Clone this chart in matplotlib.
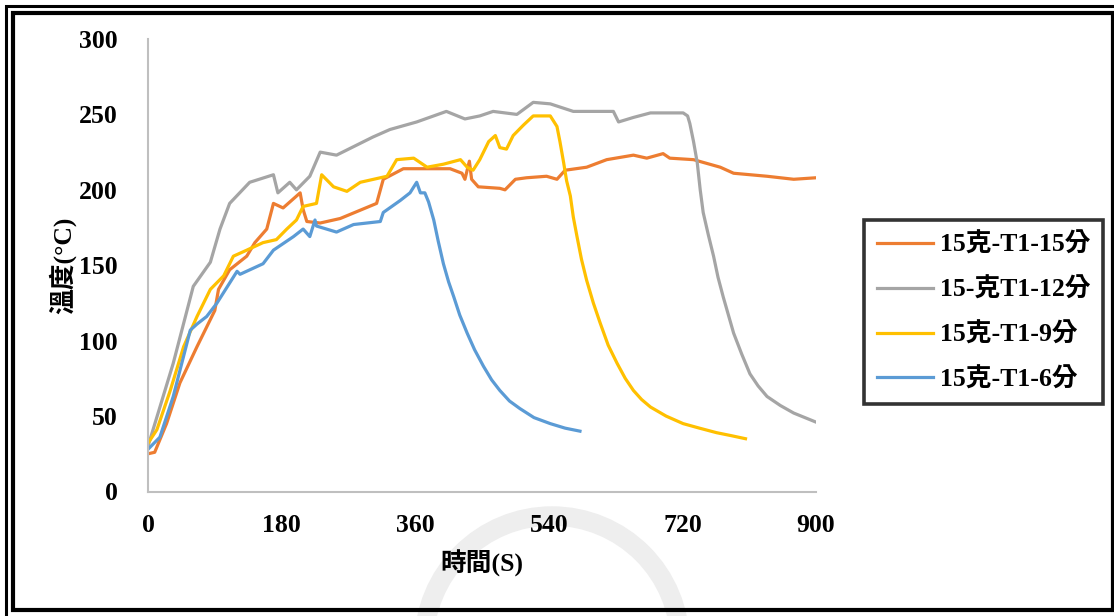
"""
溫度曲線 - 15克 T1 不同加熱時間
"""

import matplotlib.pyplot as plt
from matplotlib.patches import Rectangle, Circle

# 資料
T15_X = [0, 9, 25, 43, 66, 79, 90, 95, 110, 133, 144, 160, 169, 182, 205, 209, 214,
         232, 259, 308, 317, 344, 376, 407, 423, 427, 433, 436, 445, 474, 481, 495,
         510, 537, 551, 562, 591, 618, 654, 672, 694, 703, 735, 771, 789, 834, 870, 900]
T15_Y = [25, 26, 45, 72, 96, 109, 120, 134, 147, 156, 165, 174, 191, 188, 198, 187, 179,
         178, 181, 191, 207, 214, 214, 214, 211, 207, 219, 207, 202, 201, 200, 207,
         208, 209, 207, 213, 215, 220, 223, 221, 224, 221, 220, 215, 211, 209, 207, 208]

T12_X = [0, 34, 61, 84, 97, 110, 137, 169, 175, 191, 200, 218, 232, 254, 303, 326, 362,
         402, 427, 447, 465, 497, 519, 542, 573, 627, 634, 654, 677, 721, 727, 730, 735,
         740, 744, 748, 755, 762, 768, 775, 782, 789, 800, 811, 822, 834, 852, 870, 885, 900]
T12_Y = [30, 85, 136, 152, 174, 191, 205, 210, 198, 205, 200, 209, 225, 223, 235, 240, 245,
         252, 247, 249, 252, 250, 258, 257, 252, 252, 245, 248, 251, 251, 249, 244, 232,
         218, 200, 185, 170, 156, 142, 129, 117, 105, 91, 78, 70, 63, 57, 52, 49, 46]

T9_X = [0, 12, 30, 48, 66, 84, 102, 115, 133, 155, 173, 187, 200, 209, 227, 234, 250, 268,
        286, 322, 335, 358, 376, 398, 421, 430, 438, 447, 459, 468, 474, 483, 492, 506,
        519, 542, 551, 555, 560, 564, 569, 573, 578, 584, 591, 600, 609, 620, 632, 643,
        654, 665, 677, 698, 721, 743, 766, 786, 805]
T9_Y = [32, 41, 67, 96, 116, 134, 143, 156, 160, 165, 167, 174, 180, 189, 191, 210, 202, 199,
        205, 209, 220, 221, 215, 217, 220, 215, 213, 220, 232, 236, 228, 227, 236, 243,
        249, 249, 242, 232, 218, 206, 196, 182, 169, 154, 140, 125, 112, 97, 85, 75,
        67, 61, 56, 50, 45, 42, 39, 37, 35]

T6_X = [0, 16, 34, 57, 66, 79, 93, 120, 124, 155, 169, 196, 209, 218, 225, 227, 254, 277,
        313, 317, 340, 353, 362, 367, 373, 378, 385, 391, 398, 405, 412, 420, 430, 440,
        452, 463, 474, 487, 501, 520, 542, 562, 582]
T6_Y = [28, 36, 63, 107, 111, 116, 125, 146, 144, 151, 160, 169, 174, 169, 180, 176, 172, 177,
        179, 185, 193, 198, 205, 198, 198, 192, 180, 166, 151, 139, 129, 117, 105, 94,
        83, 74, 67, 60, 55, 49, 45, 42, 40]

NOMBRES = ['15克-T1-15分', '15-克T1-12分', '15克-T1-9分', '15克-T1-6分']
CORES = ['#ED7D31', '#A5A5A5', '#FFC000', '#5B9BD5']
X_TICKS = [0, 180, 360, 540, 720, 900]
Y_TICKS = [0, 50, 100, 150, 200, 250, 300]

FONTE = ['Liberation Serif', 'Noto Sans CJK TC']
W, H = 1114, 616


def main():
    fig = plt.figure(figsize=(W / 100, H / 100), dpi=100)
    ax = fig.add_axes([148 / W, 1 - 491.5 / H, (816 - 148) / W, (491.5 - 39) / H])
    ax.patch.set_alpha(0)

    series = [(T15_X, T15_Y), (T12_X, T12_Y), (T9_X, T9_Y), (T6_X, T6_Y)]
    for (x, y), nome, cor in zip(series, NOMBRES, CORES):
        ax.plot(x, y, color=cor, linewidth=2.3, label=nome, solid_joinstyle='round')

    ax.set_xlim(0, 900)
    ax.set_ylim(0, 300)
    ax.set_xticks(X_TICKS)
    ax.set_yticks(Y_TICKS)
    ax.tick_params(length=0, labelsize=18.5, pad=16)
    ax.tick_params(axis='y', pad=22)
    for lbl in ax.get_xticklabels() + ax.get_yticklabels():
        lbl.set_family(FONTE)
        lbl.set_fontweight('bold')

    for lado in ['top', 'right']:
        ax.spines[lado].set_visible(False)
    for lado in ['left', 'bottom']:
        ax.spines[lado].set_color('#BFBFBF')
        ax.spines[lado].set_linewidth(1.5)

    fig.text(482 / W, 1 - 563 / H, '時間(S)', family=FONTE, fontweight='bold',
             fontsize=18.5, ha='center', va='center')
    fig.text(62 / W, 1 - 265 / H, '溫度(°C)', family=FONTE, fontweight='bold',
             fontsize=18.5, ha='center', va='center', rotation=90)

    leg = fig.legend(loc='upper left', bbox_to_anchor=(864 / W, 1 - 220 / H),
                     prop={'family': FONTE, 'weight': 'bold', 'size': 18.5},
                     frameon=True, fancybox=False, handlelength=2.2,
                     handletextpad=0.25, labelspacing=0.8, borderpad=0.5,
                     borderaxespad=0)
    leg.get_frame().set_edgecolor('black')
    leg.get_frame().set_linewidth(2.6)

    # marca d'água e moldura
    fig.patches.append(Circle((552, H - 644), 128, transform=None, fill=False,
                              edgecolor='#EEEEEE', linewidth=14, zorder=-1))
    fig.patches.append(Rectangle((5.5, -10), 1130, 620.5, transform=None, fill=False,
                                 edgecolor='black', linewidth=2.2))
    fig.patches.append(Rectangle((13, 6), 1100, 597, transform=None, fill=False,
                                 edgecolor='black', linewidth=3))

    fig.savefig('out.png', dpi=100)


if __name__ == "__main__":
    main()
